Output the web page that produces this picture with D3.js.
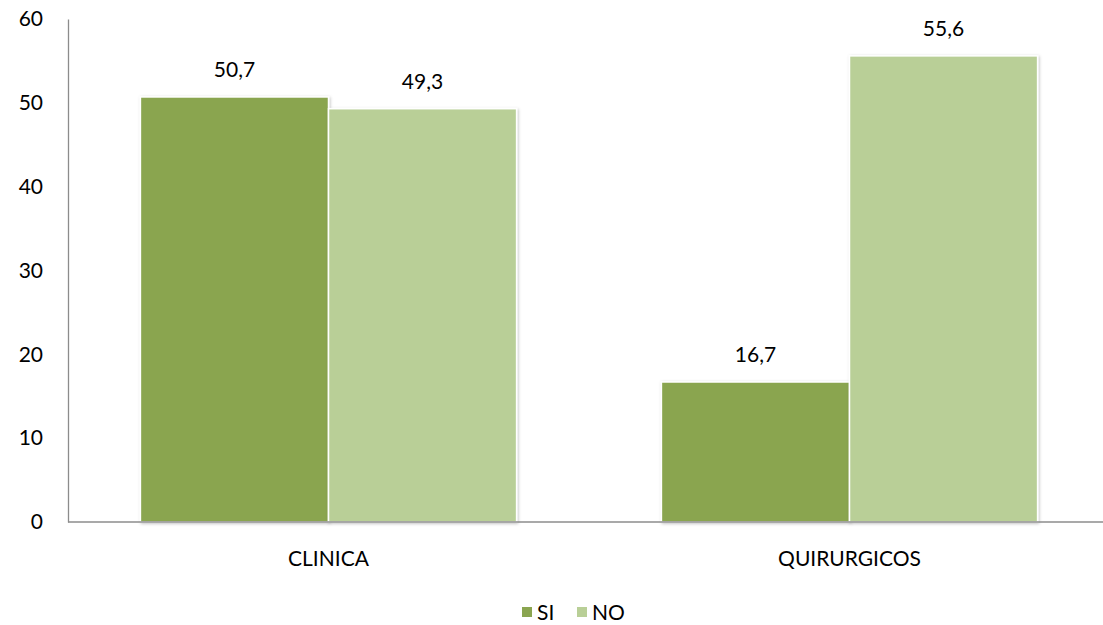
<!DOCTYPE html>
<html>
<head>
<meta charset="utf-8">
<script src="https://cdn.jsdelivr.net/npm/d3@7"></script>
<style>
  body { margin: 0; background: #fff; }
  text { font-family: Lato, "Open Sans", sans-serif; fill: #000; }
</style>
</head>
<body>
<script>
// Data
const categories = ['CLINICA', 'QUIRURGICOS'];
const seriesNames = ['SI', 'NO'];
const siValues = [50.7, 16.7];
const noValues = [49.3, 55.6];
const yTicks = [0, 10, 20, 30, 40, 50, 60];

const colors = {SI: '#8aa550', NO: '#b9cf97'};

let width = 1103, height = 625;

let svg = d3.select('body').append('svg')
    .attr('width', width)
    .attr('height', height);

// subtle shadow like the office chart
let defs = svg.append('defs');
let f = defs.append('filter').attr('id', 'shadow')
    .attr('x', '-5%').attr('y', '-5%').attr('width', '115%').attr('height', '115%');
f.append('feDropShadow')
    .attr('dx', 1).attr('dy', 1).attr('stdDeviation', 1.5)
    .attr('flood-color', '#000').attr('flood-opacity', 0.25);

let x0 = d3.scaleBand()
    .domain(categories)
    .range([68, 1110])
    .paddingInner(0.278)
    .paddingOuter(0.139);

let x1 = d3.scaleBand()
    .domain(seriesNames)
    .range([0, x0.bandwidth()]);

let y = d3.scaleLinear()
    .domain([0, 60])
    .range([522, 19]);

let rows = categories.map((c, i) => ({
    cat: c,
    vals: [{k: 'SI', v: siValues[i]}, {k: 'NO', v: noValues[i]}]
}));

// y axis
let yAxis = svg.append('g')
    .attr('transform', 'translate(68,0)')
    .call(d3.axisLeft(y).tickValues(yTicks).tickSize(0).tickPadding(25));
yAxis.select('.domain').attr('stroke', '#8c8c8c').attr('stroke-width', 1.3);
yAxis.selectAll('text')
    .style('font-size', '21px')
    .style('font-family', 'Lato, "Open Sans", sans-serif');

// bars
let groups = svg.selectAll('.grp')
    .data(rows)
    .enter().append('g')
    .attr('class', 'grp')
    .attr('transform', d => 'translate(' + x0(d.cat) + ',0)');

groups.selectAll('rect')
    .data(d => d.vals)
    .enter().append('rect')
    .attr('x', d => x1(d.k))
    .attr('y', d => y(d.v))
    .attr('width', x1.bandwidth())
    .attr('height', d => y(0) - y(d.v))
    .attr('fill', d => colors[d.k])
    .attr('stroke', '#fff')
    .attr('stroke-width', 1.5)
    .attr('filter', 'url(#shadow)');

groups.selectAll('.lbl')
    .data(d => d.vals)
    .enter().append('text')
    .attr('class', 'lbl')
    .attr('x', d => x1(d.k) + x1.bandwidth() / 2)
    .attr('y', d => y(d.v) - 20)
    .attr('text-anchor', 'middle')
    .style('font-size', '21px')
    .text(d => d3.format('.1f')(d.v).replace('.', ','));

// x axis baseline
svg.append('line')
    .attr('x1', 68).attr('x2', 1103)
    .attr('y1', y(0)).attr('y2', y(0))
    .attr('stroke', '#8c8c8c')
    .attr('stroke-width', 1.3);

svg.selectAll('.cat')
    .data(categories)
    .enter().append('text')
    .attr('class', 'cat')
    .attr('x', d => x0(d) + x0.bandwidth() / 2)
    .attr('y', 566)
    .attr('text-anchor', 'middle')
    .style('font-size', '21px')
    .text(d => d);

// legend
let legend = svg.append('g');
let legItems = [{k: 'SI', x: 522}, {k: 'NO', x: 577}];
legItems.forEach(it => {
    legend.append('rect')
        .attr('x', it.x).attr('y', 607)
        .attr('width', 10).attr('height', 10)
        .attr('fill', colors[it.k]);
    legend.append('text')
        .attr('x', it.x + 15).attr('y', 620)
        .style('font-size', '21px')
        .text(it.k);
});
</script>
</body>
</html>
